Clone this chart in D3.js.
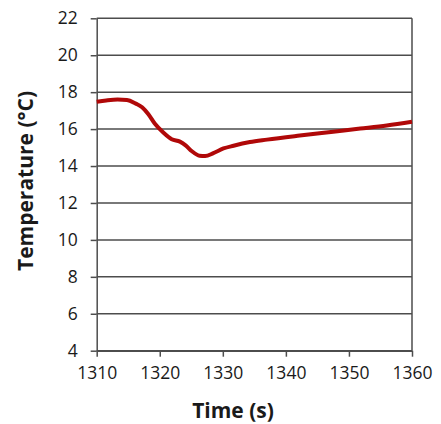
<!DOCTYPE html>
<html>
<head>
<meta charset="utf-8">
<script src="https://cdn.jsdelivr.net/npm/d3@7"></script>
<style>
  body { margin: 0; background: #fff; }
  text { font-family: "Open Sans", Lato, sans-serif; fill: #1a1a1a; }
</style>
</head>
<body>
<svg id="chart" width="441" height="424"></svg>
<script>
// ---- data ----
const times = [1310, 1311.5, 1313.3, 1314.8, 1316.2, 1317.2, 1318.2, 1319.2, 1320.6, 1321.9, 1323.2, 1324.1,
    1325.1, 1326.3, 1327.2, 1328.5, 1330.1, 1331.7, 1334.3, 1337, 1342.2, 1347.5, 1351.8, 1356, 1360];
const temps = [17.48, 17.55, 17.6, 17.58, 17.38, 17.18, 16.8, 16.3, 15.8, 15.45, 15.32, 15.12,
    14.8, 14.56, 14.54, 14.7, 14.95, 15.1, 15.3, 15.43, 15.65, 15.86, 16.03, 16.2, 16.4];
const xTicks = [1310, 1320, 1330, 1340, 1350, 1360];
const yTicks = [4, 6, 8, 10, 12, 14, 16, 18, 20, 22];

const margin = { left: 96.7, right: 412, top: 18.3, bottom: 350.7 };
const svg = d3.select("#chart");

const x = d3.scaleLinear().domain([1310, 1360]).range([margin.left, margin.right]);
const y = d3.scaleLinear().domain([4, 22]).range([margin.bottom, margin.top]);

const gridColor = "#4d4d4d";

// horizontal gridlines
svg.append("g")
    .selectAll("line")
    .data(yTicks)
    .enter().append("line")
    .attr("x1", margin.left)
    .attr("x2", margin.right)
    .attr("y1", d => y(d))
    .attr("y2", d => y(d))
    .attr("stroke", gridColor)
    .attr("stroke-width", 1.5);

// right border
svg.append("line")
    .attr("x1", margin.right).attr("x2", margin.right)
    .attr("y1", margin.top).attr("y2", margin.bottom)
    .attr("stroke", gridColor).attr("stroke-width", 1.5);

// y axis
const yAxis = svg.append("g")
    .attr("transform", "translate(" + margin.left + ",0)")
    .call(d3.axisLeft(y).tickValues(yTicks).tickSize(6).tickPadding(13).tickSizeOuter(0));
yAxis.select(".domain").attr("stroke", gridColor).attr("stroke-width", 1.5);
yAxis.selectAll(".tick line").attr("stroke", gridColor).attr("stroke-width", 1.5);
yAxis.selectAll("text").style("font-size", "17.5px").attr("fill", "#1a1a1a");

// x axis
const xAxis = svg.append("g")
    .attr("transform", "translate(0," + margin.bottom + ")")
    .call(d3.axisBottom(x).tickValues(xTicks).tickFormat(d3.format("d")).tickSize(6).tickPadding(10).tickSizeOuter(0));
xAxis.select(".domain").attr("stroke", gridColor).attr("stroke-width", 1.5);
xAxis.selectAll(".tick line").attr("stroke", gridColor).attr("stroke-width", 1.5);
xAxis.selectAll("text").style("font-size", "17.5px").attr("fill", "#1a1a1a");

// temperature curve
const line = d3.line()
    .x((d, i) => x(times[i]))
    .y(d => y(d))
    .curve(d3.curveMonotoneX);

svg.append("path")
    .datum(temps)
    .attr("d", line)
    .attr("fill", "none")
    .attr("stroke", "#b00808")
    .attr("stroke-width", 4)
    .attr("stroke-linejoin", "round");

// axis titles
svg.append("text")
    .attr("x", 233)
    .attr("y", 418)
    .attr("text-anchor", "middle")
    .style("font-size", "21px")
    .style("font-weight", "bold")
    .text("Time (s)");

svg.append("text")
    .attr("transform", "translate(33,181) rotate(-90)")
    .attr("text-anchor", "middle")
    .style("font-size", "21px")
    .style("font-weight", "bold")
    .text("Temperature (°C)");
</script>
</body>
</html>
